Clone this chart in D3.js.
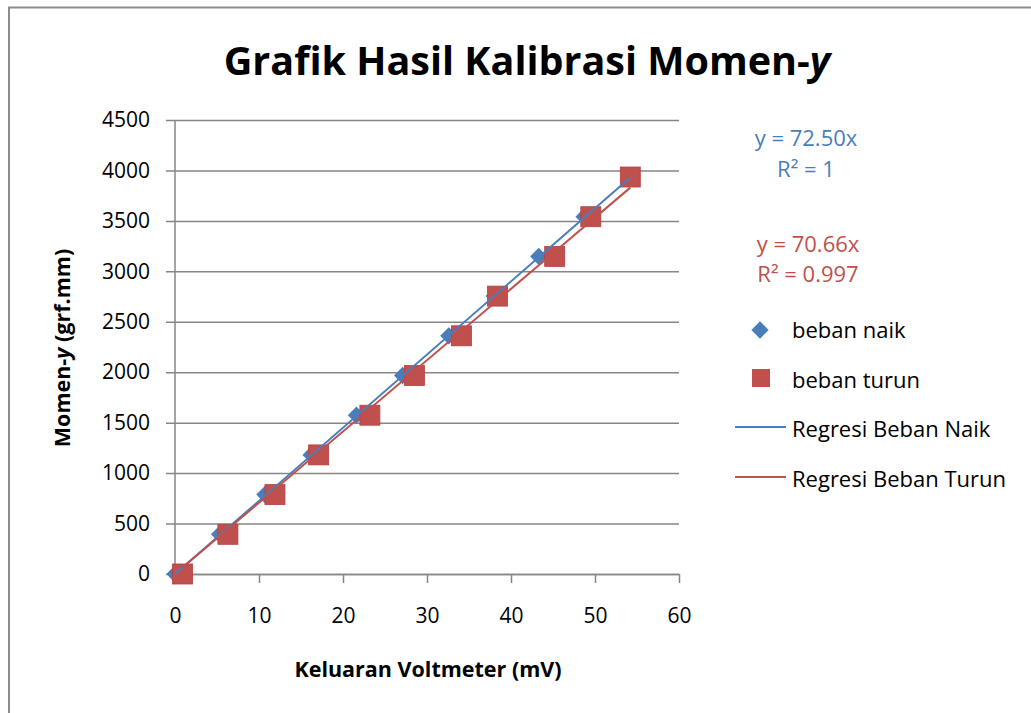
<!DOCTYPE html>
<html>
<head>
<meta charset="utf-8">
<script src="https://cdn.jsdelivr.net/npm/d3@7"></script>
<style>
  body { margin: 0; background: #fff; }
  text { font-family: "Open Sans", sans-serif; }
</style>
</head>
<body>
<div id="chart"></div>
<script>
// momen values (grf.mm), shared by both series
const momenValues = [0, 393.5, 787, 1180.5, 1574, 1967.5, 2361, 2754.5, 3148, 3541.5, 3935];
// voltmeter readings (mV)
const naikValues = [0, 5.3, 10.7, 16.2, 21.6, 27.1, 32.6, 38.0, 43.3, 48.7, 54.2];
const turunValues = [0.9, 6.3, 11.9, 17.1, 23.2, 28.5, 34.1, 38.4, 45.2, 49.5, 54.2];
// regression slopes
const slopeNaik = 72.50;
const slopeTurun = 70.66;
const xTicks = [0, 10, 20, 30, 40, 50, 60];
const yTicks = [0, 500, 1000, 1500, 2000, 2500, 3000, 3500, 4000, 4500];

const blue = '#4a7ebb';
const red = '#c0504d';
const gridColor = '#868686';
const font = '"Open Sans", sans-serif';
const fs = 21;

const width = 1031, height = 713;
const margin = { left: 175, top: 120, right: 352, bottom: 139 };
const w = width - margin.left - margin.right;
const h = height - margin.top - margin.bottom;

const svg = d3.select('#chart').append('svg')
    .attr('width', width)
    .attr('height', height);

// outer chart border
svg.append('rect')
    .attr('x', 9).attr('y', 7.5)
    .attr('width', 1040).attr('height', 720)
    .attr('fill', 'none')
    .attr('stroke', '#8c8c8c')
    .attr('stroke-width', 2);

const x = d3.scaleLinear().domain([0, 60]).range([0, w]);
const y = d3.scaleLinear().domain([0, 4500]).range([h, 0]);

const g = svg.append('g')
    .attr('transform', `translate(${margin.left},${margin.top})`);

// y axis with gridlines
const yAxis = d3.axisLeft(y).tickValues(yTicks).tickFormat(d3.format('d'))
    .tickSize(-w).tickSizeOuter(0).tickPadding(25);
const yAxisG = g.append('g').call(yAxis);
yAxisG.select('.domain').remove();
yAxisG.selectAll('.tick line')
    .attr('x1', -9)
    .attr('stroke', gridColor)
    .attr('stroke-width', 1.5);
yAxisG.selectAll('.tick text')
    .attr('font-size', fs)
    .attr('font-family', font)
    .attr('fill', '#000');

// x axis
const xAxis = d3.axisBottom(x).tickValues(xTicks).tickSize(9).tickSizeOuter(0).tickPadding(25);
const xAxisG = g.append('g')
    .attr('transform', `translate(0,${h})`)
    .call(xAxis);
xAxisG.select('.domain').attr('stroke', gridColor).attr('stroke-width', 1.5);
xAxisG.selectAll('.tick line').attr('stroke', gridColor).attr('stroke-width', 1.5);
xAxisG.selectAll('.tick text')
    .attr('font-size', fs)
    .attr('font-family', font)
    .attr('fill', '#000');

// y axis line
g.append('line')
    .attr('x1', 0).attr('x2', 0)
    .attr('y1', 0).attr('y2', h)
    .attr('stroke', gridColor)
    .attr('stroke-width', 1.5);

// markers
const naikData = naikValues.map((v, i) => ({ x: v, y: momenValues[i] }));
const turunData = turunValues.map((v, i) => ({ x: v, y: momenValues[i] }));

g.append('g').selectAll('path')
    .data(naikData)
    .join('path')
    .attr('d', d3.symbol(d3.symbolDiamond2, 190))
    .attr('transform', d => `translate(${x(d.x)},${y(d.y)})`)
    .attr('fill', blue);

g.append('g').selectAll('rect')
    .data(turunData)
    .join('rect')
    .attr('x', d => x(d.x) - 10)
    .attr('y', d => y(d.y) - 10)
    .attr('width', 20).attr('height', 20)
    .attr('fill', red)
    .attr('stroke', '#b5413e')
    .attr('stroke-width', 0.8);

// regression lines over data range
const line = d3.line().x(d => x(d[0])).y(d => y(d[1]));
const naikExt = d3.extent(naikValues);
const turunExt = d3.extent(turunValues);
g.append('path')
    .attr('d', line(naikExt.map(v => [v, v * slopeNaik])))
    .attr('stroke', blue).attr('stroke-width', 2).attr('fill', 'none');
g.append('path')
    .attr('d', line(turunExt.map(v => [v, v * slopeTurun])))
    .attr('stroke', red).attr('stroke-width', 2).attr('fill', 'none');

// title
const title = svg.append('text')
    .attr('x', 527).attr('y', 75)
    .attr('text-anchor', 'middle')
    .attr('font-size', 39.5)
    .attr('font-weight', 'bold')
    .attr('fill', '#000');
title.append('tspan').text('Grafik Hasil Kalibrasi Momen-');
title.append('tspan').attr('font-style', 'italic').text('y');

// axis titles
svg.append('text')
    .attr('x', 428).attr('y', 677)
    .attr('text-anchor', 'middle')
    .attr('font-size', 21.5)
    .attr('font-weight', 'bold')
    .text('Keluaran Voltmeter (mV)');

const yTitle = svg.append('text')
    .attr('transform', 'translate(70,348) rotate(-90)')
    .attr('text-anchor', 'middle')
    .attr('font-size', 21.5)
    .attr('font-weight', 'bold');
yTitle.append('tspan').text('Momen-');
yTitle.append('tspan').attr('font-style', 'italic').text('y');
yTitle.append('tspan').text(' (grf.mm)');

// regression equations
const eq = [
    { t: `y = ${slopeNaik.toFixed(2)}x`, x: 806, y: 146, c: blue },
    { t: 'R² = 1', x: 806, y: 177, c: blue },
    { t: `y = ${slopeTurun.toFixed(2)}x`, x: 808, y: 252, c: red },
    { t: 'R² = 0.997', x: 808, y: 282, c: red }
];
svg.append('g').selectAll('text')
    .data(eq)
    .join('text')
    .attr('x', d => d.x).attr('y', d => d.y)
    .attr('text-anchor', 'middle')
    .attr('font-size', 22)
    .attr('fill', d => d.c)
    .text(d => d.t);

// legend
const legend = svg.append('g');
legend.append('path')
    .attr('d', d3.symbol(d3.symbolDiamond2, 190))
    .attr('transform', 'translate(760,330)')
    .attr('fill', blue);
legend.append('rect')
    .attr('x', 752).attr('y', 369).attr('width', 18).attr('height', 18)
    .attr('fill', red);
legend.append('line')
    .attr('x1', 735).attr('x2', 786).attr('y1', 427).attr('y2', 427)
    .attr('stroke', blue).attr('stroke-width', 2);
legend.append('line')
    .attr('x1', 735).attr('x2', 786).attr('y1', 477).attr('y2', 477)
    .attr('stroke', red).attr('stroke-width', 2);
const legendItems = ['beban naik', 'beban turun', 'Regresi Beban Naik', 'Regresi Beban Turun'];
legend.selectAll('text.item')
    .data(legendItems)
    .join('text')
    .attr('class', 'item')
    .attr('x', 792)
    .attr('y', (d, i) => 338 + i * 49.5)
    .attr('font-size', 22)
    .attr('fill', '#000')
    .text(d => d);
</script>
</body>
</html>
